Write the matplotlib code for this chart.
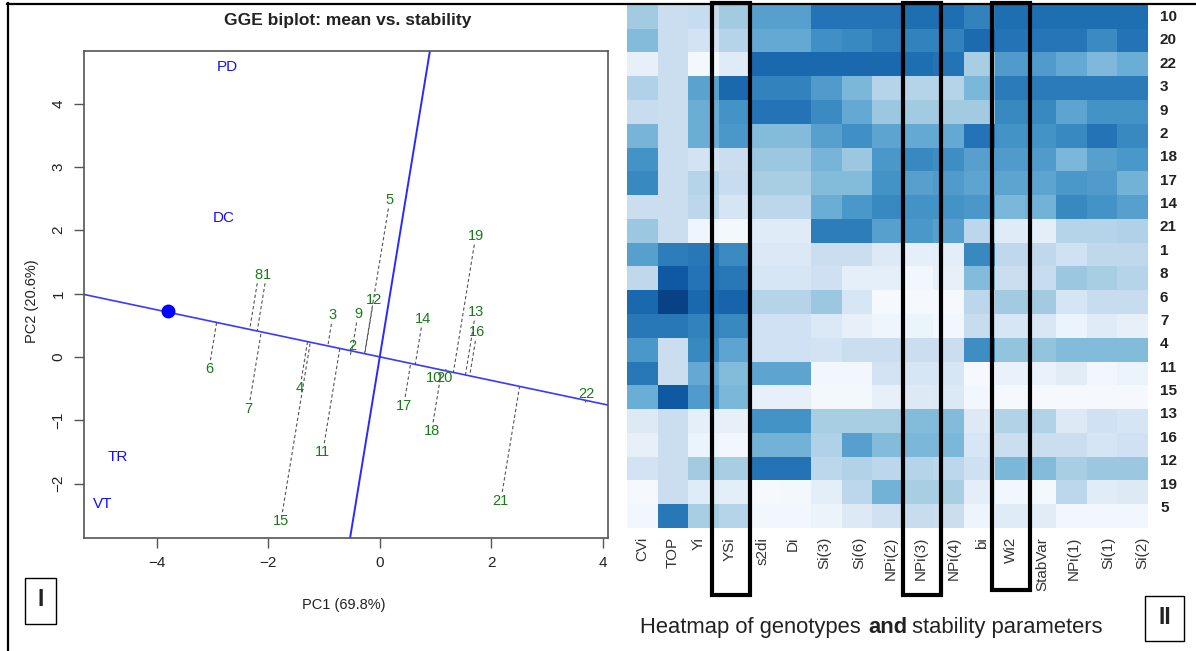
import numpy as np
import matplotlib
matplotlib.use("Agg")
import matplotlib.pyplot as plt
from matplotlib.patches import Rectangle
from matplotlib.lines import Line2D

W, H = 1196, 651
plt.rcParams["font.family"] = ["Liberation Sans", "DejaVu Sans"]

# biplot data
env_names = ["PD", "DC", "TR", "VT"]
env_x = [-2.74, -2.80, -4.70, -4.96]
env_y = [4.57, 2.20, -1.58, -2.32]
gen_names = ["1", "2", "3", "4", "5", "6", "7", "8", "9", "10", "11",
             "12", "13", "14", "15", "16", "17", "18", "19", "20", "21", "22"]
gen_x = [-2.03, -0.50, -0.84, -1.43, 0.18, -3.06, -2.35, -2.17, -0.39, 0.98, -1.02,
         -0.11, 1.72, 0.77, -1.77, 1.74, 0.43, 0.93, 1.72, 1.16, 2.17, 3.71]
gen_y = [1.30, 0.17, 0.66, -0.49, 2.48, -0.19, -0.82, 1.30, 0.68, -0.33, -1.50,
         0.90, 0.71, 0.60, -2.59, 0.39, -0.77, -1.17, 1.91, -0.33, -2.27, -0.58]
ideal_x, ideal_y = -3.80, 0.72
atc_slope = -0.186

# heatmap data
row_labels = ["10", "20", "22", "3", "9", "2", "18", "17", "14", "21", "1",
              "8", "6", "7", "4", "11", "15", "13", "16", "12", "19", "5"]
col_labels = ["CVi", "TOP", "Yi", "YSi", "s2di", "Di", "Si(3)", "Si(6)", "NPi(2)", "NPi(3)",
              "NPi(4)", "bi", "Wi2", "StabVar", "NPi(1)", "Si(1)", "Si(2)"]
heat = [
    [.36, .22, .24, .36, .56, .56, .74, .74, .74, .76, .76, .68, .76, .76, .76, .76, .76],
    [.44, .22, .18, .30, .52, .52, .63, .66, .70, .68, .68, .77, .74, .73, .73, .65, .74],
    [.08, .22, .02, .12, .78, .78, .78, .78, .78, .76, .74, .34, .58, .58, .52, .45, .50],
    [.32, .22, .55, .78, .68, .68, .58, .46, .30, .30, .30, .46, .71, .71, .71, .71, .71],
    [.24, .22, .50, .62, .74, .74, .65, .52, .38, .36, .36, .36, .66, .66, .54, .62, .62],
    [.47, .22, .50, .60, .44, .44, .56, .63, .54, .52, .52, .74, .62, .62, .66, .74, .66],
    [.62, .22, .18, .22, .38, .38, .47, .38, .60, .66, .64, .56, .58, .58, .46, .56, .60],
    [.66, .22, .30, .24, .34, .34, .44, .44, .62, .56, .58, .54, .54, .54, .60, .58, .48],
    [.22, .22, .28, .17, .28, .28, .50, .60, .66, .62, .62, .60, .46, .48, .66, .62, .56],
    [.38, .22, .04, .02, .12, .12, .70, .70, .56, .60, .56, .28, .12, .10, .30, .30, .32],
    [.56, .70, .72, .65, .14, .14, .22, .22, .13, .09, .10, .66, .27, .27, .20, .27, .27],
    [.27, .84, .74, .72, .16, .16, .21, .09, .09, .03, .08, .44, .22, .24, .38, .34, .30],
    [.78, .93, .78, .80, .30, .30, .38, .16, .01, .01, .01, .28, .36, .36, .17, .24, .24],
    [.72, .72, .68, .66, .20, .20, .14, .08, .04, .06, .03, .24, .16, .15, .06, .12, .08],
    [.60, .22, .66, .54, .20, .20, .18, .22, .22, .22, .22, .64, .40, .40, .44, .44, .44],
    [.72, .22, .52, .44, .54, .54, .03, .03, .18, .16, .16, .01, .07, .07, .11, .03, .06],
    [.50, .84, .58, .46, .08, .08, .02, .02, .08, .13, .14, .03, .01, .01, .01, .01, .01],
    [.13, .22, .09, .08, .62, .62, .34, .34, .34, .44, .44, .13, .31, .31, .13, .20, .17],
    [.08, .22, .06, .03, .48, .48, .32, .56, .44, .46, .46, .16, .22, .22, .22, .17, .20],
    [.18, .22, .36, .34, .74, .74, .28, .31, .28, .30, .28, .21, .46, .44, .34, .38, .38],
    [.01, .22, .12, .10, .01, .02, .10, .28, .48, .34, .34, .10, .03, .02, .28, .11, .13],
    [.03, .72, .34, .30, .03, .03, .06, .13, .20, .24, .22, .05, .12, .11, .03, .03, .03],
]

# label and box placement in picture pixels
col_label_px = [642, 673, 699, 730, 763, 793, 824, 859, 891, 921, 954, 982, 1011, 1042, 1074, 1108, 1142]
row_label_first, row_label_step = 17, 23.38
boxes_px = [(712, 750, 595), (903, 941, 595), (992, 1030, 590)]


def fx(x):
    return x / W


def fy(y):
    return 1 - y / H


fig = plt.figure(figsize=(W / 100, H / 100), dpi=100)

# left panel: biplot
ax = fig.add_axes([fx(84), fy(538), (608 - 84) / W, (538 - 51) / H])
ax.set_xlim(-5.30, 4.09)
ax.set_ylim(-2.86, 4.83)

xs = np.array([-6, 5])
ax.plot(xs, atc_slope * xs, color="#3a3aff", lw=1.2, zorder=2)
ys = np.array([-4, 6])
ax.plot(ys * -atc_slope, ys, color="#2a2aff", lw=1.4, zorder=2)

# dashed projection of each genotype on the mean axis
for gx, gy in zip(gen_x, gen_y):
    foot_x = (gx + atc_slope * gy) / (1 + atc_slope ** 2)
    foot_y = atc_slope * foot_x
    gap = 0.14 / np.hypot(gx - foot_x, gy - foot_y)
    ax.plot([gx + (foot_x - gx) * gap, foot_x], [gy + (foot_y - gy) * gap, foot_y],
            color="#555555", lw=0.8, ls=(0, (3, 2.2)), zorder=1)

ax.plot([ideal_x], [ideal_y], "o", color="#0000ff", ms=9, zorder=3)
for name, x, y in zip(env_names, env_x, env_y):
    ax.text(x, y, name, color="#1010ff", fontsize=11, ha="center", va="center")
for name, x, y in zip(gen_names, gen_x, gen_y):
    ax.text(x, y, name, color="#1a7a1a", fontsize=10.5, ha="center", va="center", zorder=4)

ax.set_xticks([-4, -2, 0, 2, 4])
ax.set_yticks([-2, -1, 0, 1, 2, 3, 4])
ax.tick_params(axis="both", length=7.2, width=1, color="#555555", labelsize=11, pad=6, labelcolor="#222222")
for lab in ax.get_yticklabels():
    lab.set_rotation(90)
    lab.set_va("center")
for s in ax.spines.values():
    s.set_color("#555555")
    s.set_linewidth(1.2)

fig.text(fx(348), fy(21), "GGE biplot: mean vs. stability", fontsize=12.5, fontweight="bold",
         ha="center", va="center", color="#222222")
fig.text(fx(344), fy(605), "PC1 (69.8%)", fontsize=10.5, ha="center", va="center", color="#222222")
fig.text(fx(32), fy(301), "PC2 (20.6%)", fontsize=10.5, rotation=90, ha="center", va="center", color="#222222")

# right panel: heatmap
hax = fig.add_axes([fx(627), fy(527.7), 521 / W, 523 / H])
hax.imshow(np.array(heat), cmap="Blues", vmin=0, vmax=1, aspect="auto", interpolation="nearest")
hax.axis("off")
for i, name in enumerate(row_labels):
    fig.text(fx(1160), fy(row_label_first + i * row_label_step), name, fontsize=11, fontweight="bold",
             va="center", color="#222222")
for name, x in zip(col_labels, col_label_px):
    fig.text(fx(x), fy(537), name, fontsize=11, rotation=90, ha="center", va="top", color="#333333")

# black boxes over the selected columns
for left, right, bottom in boxes_px:
    fig.add_artist(Rectangle((fx(left), fy(bottom)), (right - left) / W, (bottom - 3) / H,
                             transform=fig.transFigure, fill=False, ec="black", lw=3))

fig.text(fx(640), fy(633), "Heatmap of genotypes", fontsize=15.8, ha="left", va="baseline", color="#222222")
fig.text(fx(868), fy(633), "and", fontsize=15.8, fontweight="bold", ha="left", va="baseline", color="#222222")
fig.text(fx(912), fy(633), "stability parameters", fontsize=15.8, ha="left", va="baseline", color="#222222")

# panel tags and outer frame
for tag, x0, y0, x1, y1 in [("I", 25, 578, 56, 624), ("II", 1145, 596, 1184, 641)]:
    fig.add_artist(Rectangle((fx(x0), fy(y1)), (x1 - x0) / W, (y1 - y0) / H,
                             transform=fig.transFigure, fill=False, ec="black", lw=1))
    fig.text(fx((x0 + x1) / 2), fy((y0 + y1) / 2 - 1), tag, fontsize=16.5, fontweight="bold",
             ha="center", va="center", color="#222222")
fig.add_artist(Line2D([fx(8), fx(8)], [0, fy(3)], color="black", lw=1.6))
fig.add_artist(Line2D([fx(7), 1], [fy(3.5), fy(3.5)], color="black", lw=1.6))

fig.savefig("out.png", dpi=100)
